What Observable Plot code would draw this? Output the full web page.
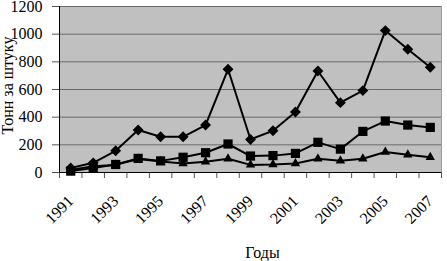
<!DOCTYPE html>
<html>
<head>
<meta charset="utf-8">
<script src="https://cdn.jsdelivr.net/npm/d3@7"></script>
<script src="https://cdn.jsdelivr.net/npm/@observablehq/plot@0.6"></script>
<style>
  html, body { margin: 0; padding: 0; background: white; }
</style>
</head>
<body>
<div id="chart"></div>
<script>
const years = [1991, 1992, 1993, 1994, 1995, 1996, 1997, 1998, 1999, 2000, 2001, 2002, 2003, 2004, 2005, 2006, 2007];
const seriesDiamond = [33, 70, 157, 307, 258, 258, 343, 746, 239, 302, 437, 734, 505, 592, 1026, 891, 761];
const seriesSquare = [10, 33, 58, 102, 84, 110, 143, 206, 119, 122, 138, 218, 169, 297, 372, 343, 326];
const seriesTriangle = [18, 45, 55, 98, 80, 65, 78, 100, 55, 58, 65, 100, 85, 100, 148, 128, 110];
const yTicks = [0, 200, 400, 600, 800, 1000, 1200];
const xLabels = [1991, 1993, 1995, 1997, 1999, 2001, 2003, 2005, 2007];
const yTitle = "Тонн за штуку";
const xTitle = "Годы";

const rows = years.map((yr, i) => ({year: yr, d: seriesDiamond[i], s: seriesSquare[i], t: seriesTriangle[i]}));
const bounds = years.map(y => y - 0.5).concat([years[years.length - 1] + 0.5]);

const chart = Plot.plot({
  width: 447,
  height: 261,
  marginLeft: 59,
  marginRight: 6,
  marginTop: 6,
  marginBottom: 89,
  style: {fontFamily: "Liberation Serif", fontSize: "16px", background: "white", color: "black"},
  x: {domain: [1990.5, 2007.5]},
  y: {domain: [0, 1200]},
  marks: [
    Plot.frame({fill: "#c0c0c0", stroke: "#9a9a9a"}),
    Plot.gridY(yTicks, {stroke: "#6a6a6a", strokeOpacity: 1, strokeWidth: 1}),
    Plot.axisY(yTicks, {tickSize: 7, tickPadding: 10, stroke: "#555", fontSize: 16, label: null, tickFormat: d => String(d)}),
    Plot.axisX(bounds, {tickSize: 6, text: null, stroke: "#555", label: null}),
    Plot.ruleX([1990.5], {stroke: "black", strokeWidth: 1}),
    Plot.ruleY([0], {stroke: "black", strokeWidth: 1}),
    Plot.text(xLabels, {x: d => d, y: () => 0, text: d => String(d), rotate: -45, textAnchor: "end", lineAnchor: "middle", dx: 0, dy: 26, fontSize: 16}),
    Plot.text([yTitle], {frameAnchor: "left", rotate: -90, textAnchor: "middle", lineAnchor: "middle", dx: -51.5, dy: -4, fontSize: 16}),
    Plot.text([xTitle], {frameAnchor: "bottom", textAnchor: "middle", lineAnchor: "middle", dx: 12, dy: 80, fontSize: 16}),
    Plot.line(rows, {x: "year", y: "t", stroke: "black", strokeWidth: 2}),
    Plot.dot(rows, {x: "year", y: "t", symbol: "triangle", r: 3.5, fill: "black", stroke: "none"}),
    Plot.line(rows, {x: "year", y: "s", stroke: "black", strokeWidth: 2}),
    Plot.dot(rows, {x: "year", y: "s", symbol: "square", r: 5.2, fill: "black", stroke: "none"}),
    Plot.line(rows, {x: "year", y: "d", stroke: "black", strokeWidth: 2}),
    Plot.dot(rows, {x: "year", y: "d", symbol: "diamond2", r: 4.9, fill: "black", stroke: "none"})
  ]
});
document.getElementById("chart").appendChild(chart);
</script>
</body>
</html>
